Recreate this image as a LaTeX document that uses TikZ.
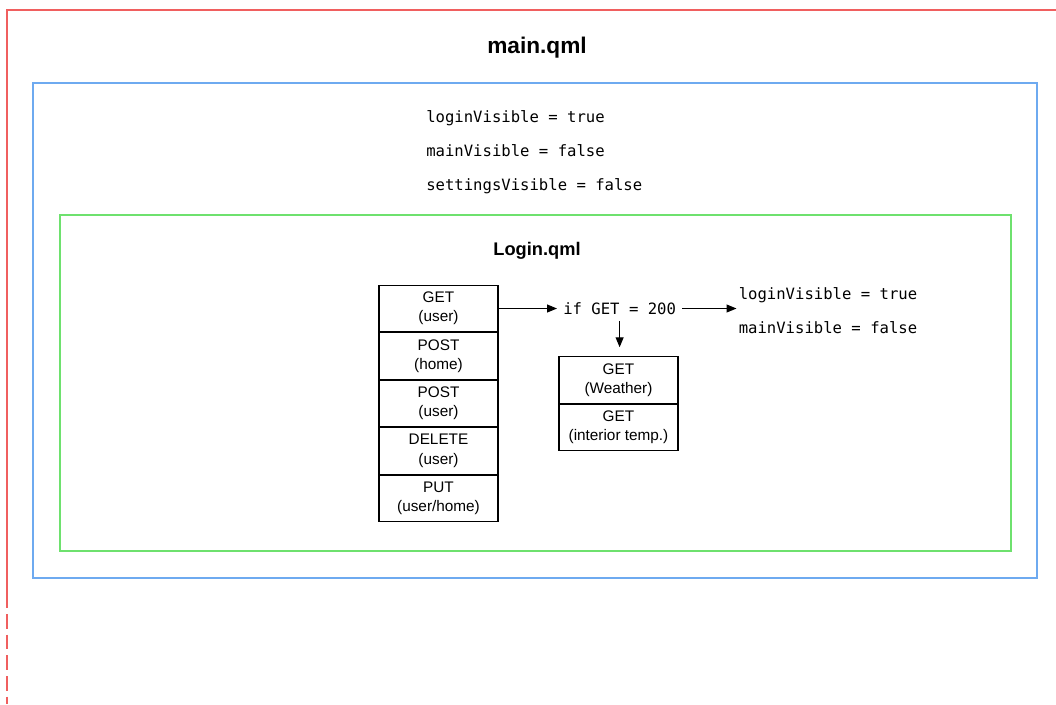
\documentclass[tikz,border=0pt]{standalone}
\usepackage{fontspec}
\setmainfont{Liberation Sans}
\setmonofont{DejaVu Sans Mono}
\usepackage{tikz}
\usetikzlibrary{arrows.meta, positioning}
\definecolor{qmlRed}{RGB}{240,95,95}
\definecolor{qmlBlue}{RGB}{110,170,240}
\definecolor{qmlGreen}{RGB}{110,225,110}
\tikzset{
    reqbox/.style={rectangle, draw=black, line width=0.8pt, minimum width=89.25pt, minimum height=34.8pt,
        inner sep=1pt, text centered, align=center, font=\fontsize{11.5}{14.5}\selectfont},
    varlines/.style={anchor=west, inner sep=0pt, align=left, font=\ttfamily\fontsize{11.7}{25.5}\selectfont},
    reqarrow/.style={-{Triangle[length=7.5pt, width=6pt]}, line width=0.8pt},
    qmltitle/.style={font=\bfseries\fontsize{17}{20}\selectfont},
}

\begin{document}
\begin{tikzpicture}[x=0.75pt, y=-0.75pt]
    \useasboundingbox (0,0) rectangle (1056,704);

    \draw[qmlRed, line width=1.1pt] (1056,10) -- (7,10) -- (7,608);
    \draw[qmlRed, line width=1.1pt, dash pattern=on 11pt off 4.5pt, dash phase=11pt] (7,608) -- (7,704);
    \draw[qmlBlue, line width=1.1pt] (33,83) rectangle (1037,578);
    \draw[qmlGreen, line width=0.8pt] (60,215) rectangle (1011,551);

    \node[qmltitle] (mainqml) at (537,48) {main.qml};
    \node[varlines] (mainvars) at (426,152) {loginVisible = true\\mainVisible = false\\settingsVisible = false};

    \node[qmltitle, font=\bfseries\fontsize{13.7}{16}\selectfont] (loginqml) at (537,251) {Login.qml};

    \node[reqbox] (getuser) at (438.5,308.5) {GET\\(user)};
    \node[reqbox, below=0pt of getuser] (posthome) {POST\\(home)};
    \node[reqbox, below=0pt of posthome] (postuser) {POST\\(user)};
    \node[reqbox, below=0pt of postuser] (deleteuser) {DELETE\\(user)};
    \node[reqbox, below=0pt of deleteuser] (putuser) {PUT\\(user/home)};

    \node[varlines, inner sep=4.5pt] (cond) at (557,308.5) {if GET = 200};

    \node[reqbox] (weather) at (618.5,380) {GET\\(Weather)};
    \node[reqbox, below=0pt of weather] (interior) {GET\\(interior temp.)};

    \node[varlines, inner sep=1.5pt] (loginvars) at (736.5,311) {loginVisible = true\\mainVisible = false};

    \draw[reqarrow] (getuser.east) -- (cond.west);
    \draw[reqarrow] (cond.east) -- (cond.east -| loginvars.west);
    \draw[reqarrow, shorten >=6.75pt] (cond.south) -- (cond.south |- weather.north);
\end{tikzpicture}
\end{document}
